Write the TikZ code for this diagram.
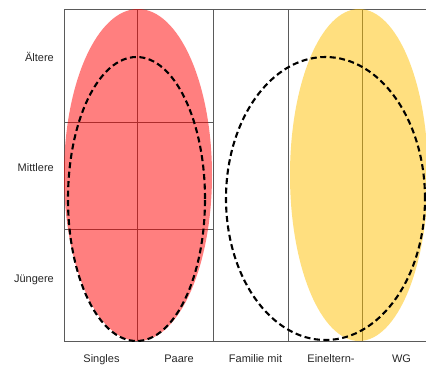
\documentclass[tikz,border=0pt]{standalone}
\usepackage{fontspec}
\setmainfont{Liberation Sans}
\definecolor{gridgray}{HTML}{5A5A5A}
\definecolor{blobred}{HTML}{FF0000}
\definecolor{blobgold}{HTML}{FFC000}

\begin{document}
\begin{tikzpicture}[
  x=1pt, y=-1pt,
  font=\fontsize{11}{13}\selectfont,
  grid/.style={draw=gridgray, line width=0.9pt},
  blob/.style={fill opacity=0.5},
  ring/.style={draw=black, line width=2.1pt,
               dash pattern=on 6pt off 3.5pt},
  rowlbl/.style={anchor=east, inner sep=0pt, text=black!85},
  collbl/.style={anchor=base, inner sep=0pt, text=black!85},
]
\useasboundingbox (0,0) rectangle (426,365);
\clip (0,0) rectangle (426,365);

\draw[grid] (64,9) rectangle (440,341);
\foreach \xx in {137,213,288,362}
  \draw[grid] (\xx,9) -- (\xx,341);
\foreach \yy in {122,229}
  \draw[grid] (64,\yy) -- (213,\yy);

\fill[blob, blobred] (138,175) ellipse [x radius=74pt, y radius=166pt];
\fill[blob, blobgold] (359,175) ellipse [x radius=69pt, y radius=166pt];

\draw[ring] (136.5,199) ellipse [x radius=68.5pt, y radius=142pt];
\draw[ring] (325.5,198.5) ellipse [x radius=99.5pt, y radius=141.5pt];

\node[rowlbl] (alt) at (54,57) {Ältere};
\node[rowlbl] (mit) at (54,168) {Mittlere};
\node[rowlbl] (jung) at (54,280) {Jüngere};

\node[collbl] (sing) at (101.5,362) {Singles};
\node[collbl] (paar) at (179,362) {Paare};
\node[collbl] (fam) at (255.5,362) {Familie mit};
\node[collbl] (einel) at (331,362) {Eineltern-};
\node[collbl] (wg) at (401.5,362) {WG};
\end{tikzpicture}
\end{document}
